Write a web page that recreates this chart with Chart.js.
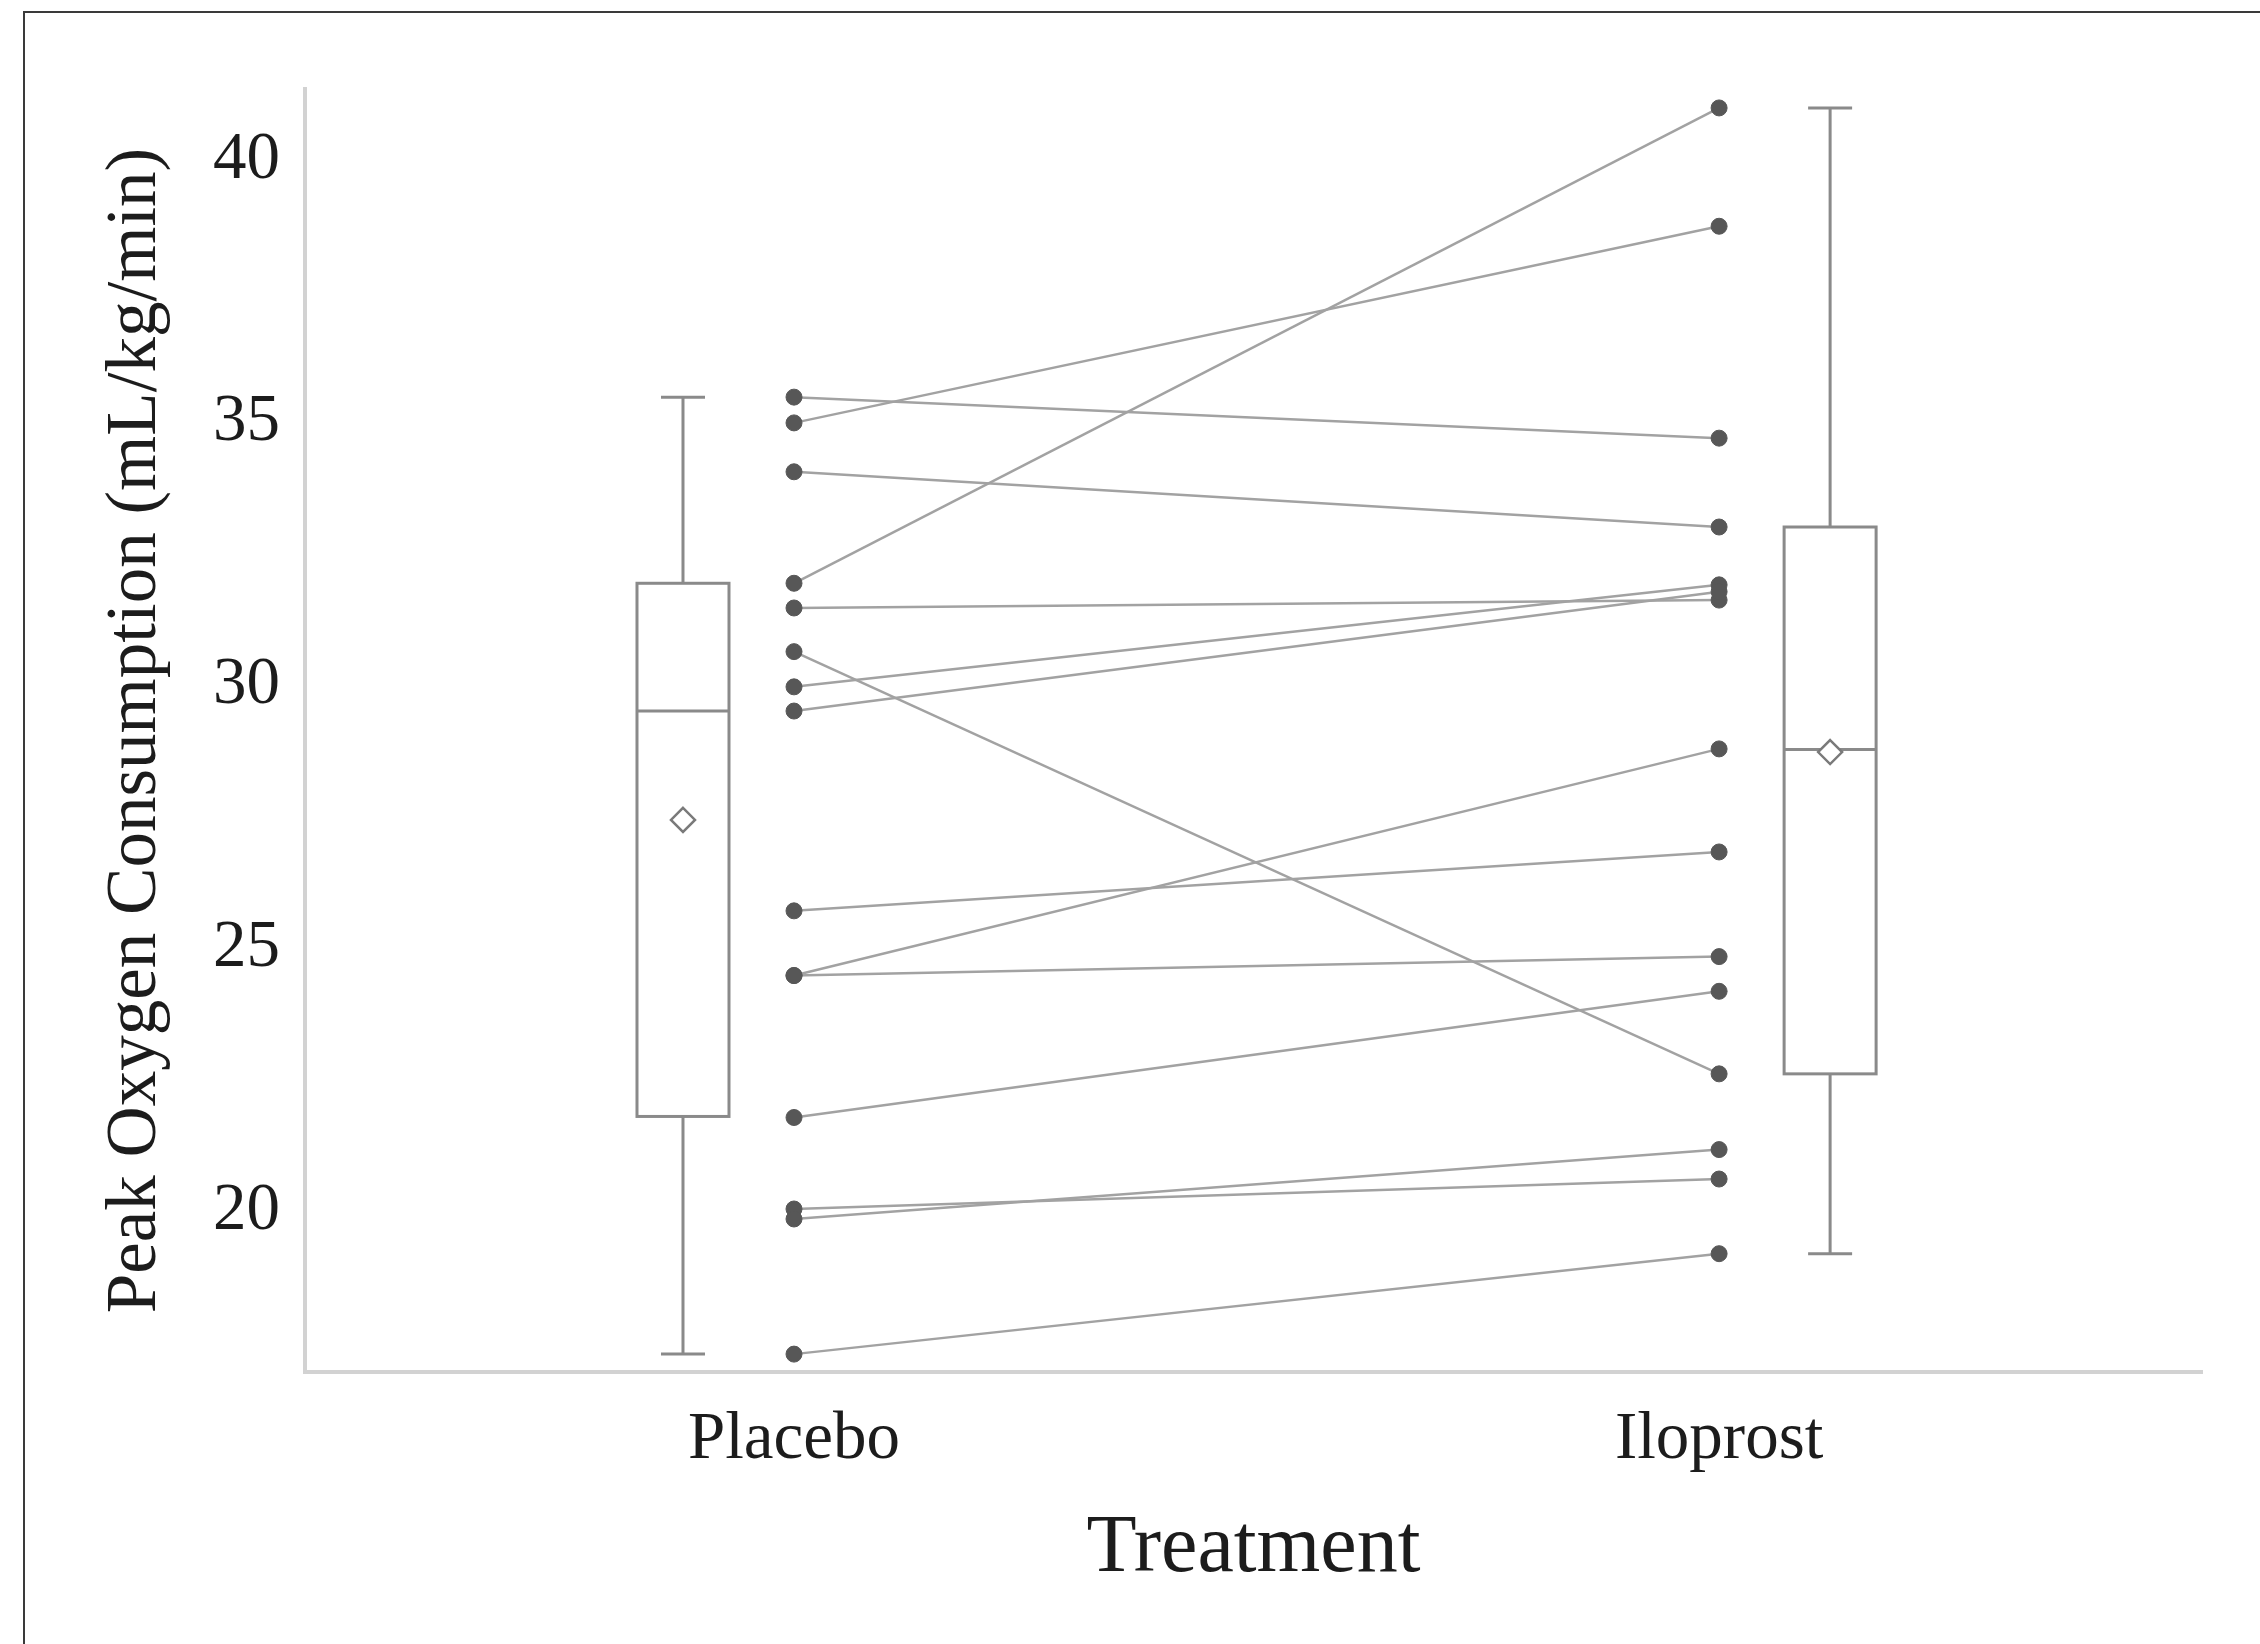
<!DOCTYPE html>
<html>
<head>
<meta charset="utf-8">
<title>Peak Oxygen Consumption</title>
<script src="https://cdn.jsdelivr.net/npm/chart.js@4.4.1/dist/chart.umd.min.js"></script>
<style>
    body {
        margin: 0;
        background: #ffffff;
    }
    #frame {
        position: absolute;
        left: 23px;
        top: 11px;
        width: 2260px;
        height: 1644px;
        border-left: 2px solid #3a3a3a;
        border-top: 2px solid #3a3a3a;
    }
    #wrap {
        position: absolute;
        left: 0;
        top: 0;
        width: 2260px;
        height: 1644px;
    }
</style>
</head>
<body>
<div id="frame"></div>
<div id="wrap">
    <canvas id="vo2Chart"></canvas>
</div>
<script>
/******************** DATA ********************/
// category names and where they sit on the x axis
let categories = ["Placebo", "Iloprost"];
let categoryX = [1, 2];

// paired measurements, same patient on each index
let placebo = [35.49, 35.0, 34.07, 31.95, 31.48, 30.65, 29.98, 29.52, 25.72, 24.49, 24.49, 21.79, 20.05, 19.86, 17.29];
let iloprost = [34.71, 38.74, 33.02, 40.99, 31.63, 22.62, 31.92, 31.79, 26.84, 28.80, 24.85, 24.19, 20.62, 21.18, 19.20];

// box plot stats (placebo, iloprost)
let boxMin = [17.29, 19.20];
let boxQ1 = [21.81, 22.62];
let boxMedian = [29.52, 28.79];
let boxQ3 = [31.95, 33.02];
let boxMax = [35.49, 40.99];
let boxMean = [27.45, 28.74];

let yTicks = [20, 25, 30, 35, 40];

/******************** DATASETS ********************/
let datasets = [];

// one grey line per patient
for (let i = 0; i < placebo.length; i++) {
    datasets.push({
        type: 'line',
        data: [
            { x: categoryX[0], y: placebo[i] },
            { x: categoryX[1], y: iloprost[i] }
        ],
        borderColor: '#a2a2a2',
        borderWidth: 2.5,
        pointRadius: 0,
        fill: false,
        order: 2
    });
}

// dots on top of the lines
let dots = [];
placebo.forEach(v => dots.push({ x: categoryX[0], y: v }));
iloprost.forEach(v => dots.push({ x: categoryX[1], y: v }));

datasets.push({
    type: 'scatter',
    data: dots,
    backgroundColor: '#575757',
    borderColor: '#575757',
    pointRadius: 8,
    order: 1
});

/******************** BOX PLOT PLUGIN ********************/
const boxOffset = [-0.12, 0.12];

const boxPlot = {
    id: 'boxPlot',
    beforeDatasetsDraw(chart) {
        let ctx = chart.ctx;
        let xs = chart.scales.x;
        let ys = chart.scales.y;
        ctx.save();
        ctx.strokeStyle = '#8a8a8a';
        ctx.lineWidth = 3;
        for (let i = 0; i < categories.length; i++) {
            let cx = xs.getPixelForValue(categoryX[i] + boxOffset[i]);
            let half = 46;
            let cap = 22;
            let yMin = ys.getPixelForValue(boxMin[i]);
            let yQ1 = ys.getPixelForValue(boxQ1[i]);
            let yMed = ys.getPixelForValue(boxMedian[i]);
            let yQ3 = ys.getPixelForValue(boxQ3[i]);
            let yMax = ys.getPixelForValue(boxMax[i]);
            let yMean = ys.getPixelForValue(boxMean[i]);

            // whiskers
            ctx.beginPath();
            ctx.moveTo(cx, yQ3);
            ctx.lineTo(cx, yMax);
            ctx.moveTo(cx - cap, yMax);
            ctx.lineTo(cx + cap, yMax);
            ctx.moveTo(cx, yQ1);
            ctx.lineTo(cx, yMin);
            ctx.moveTo(cx - cap, yMin);
            ctx.lineTo(cx + cap, yMin);
            ctx.stroke();

            // box + median
            ctx.strokeRect(cx - half, yQ3, half * 2, yQ1 - yQ3);
            ctx.beginPath();
            ctx.moveTo(cx - half, yMed);
            ctx.lineTo(cx + half, yMed);
            ctx.stroke();

            // mean diamond
            let d = 12;
            ctx.beginPath();
            ctx.moveTo(cx, yMean - d);
            ctx.lineTo(cx + d, yMean);
            ctx.lineTo(cx, yMean + d);
            ctx.lineTo(cx - d, yMean);
            ctx.closePath();
            ctx.fillStyle = '#ffffff';
            ctx.fill();
            ctx.lineWidth = 2.5;
            ctx.strokeStyle = '#7a7a7a';
            ctx.stroke();
            ctx.lineWidth = 3;
            ctx.strokeStyle = '#8a8a8a';
        }
        ctx.restore();
    }
};

/******************** CHART ********************/
let ctx = document.getElementById('vo2Chart');
let myChart = new Chart(ctx, {
    data: { datasets: datasets },
    plugins: [boxPlot],
    options: {
        responsive: true,
        maintainAspectRatio: false,
        animation: false,
        layout: {
            padding: { left: 0, top: 89, right: 58, bottom: 0 }
        },
        plugins: {
            legend: { display: false },
            tooltip: { enabled: false }
        },
        scales: {
            x: {
                type: 'linear',
                min: 0.4714,
                max: 2.522,
                afterBuildTicks: (axis) => {
                    axis.ticks = categoryX.map(v => ({ value: v }));
                },
                afterFit: (axis) => {
                    axis.height = 272;
                },
                grid: { display: false, drawTicks: false },
                border: { display: true, color: '#d2d2d2', width: 4 },
                ticks: {
                    padding: 28,
                    color: '#1c1c1c',
                    font: { family: 'Liberation Serif', size: 67 },
                    callback: (value) => categories[categoryX.indexOf(value)]
                },
                title: {
                    display: true,
                    text: 'Treatment',
                    color: '#1c1c1c',
                    font: { family: 'Liberation Serif', size: 82 },
                    padding: { top: 0, bottom: 45 }
                }
            },
            y: {
                type: 'linear',
                min: 16.95,
                max: 41.35,
                afterBuildTicks: (axis) => {
                    axis.ticks = yTicks.map(v => ({ value: v }));
                },
                afterFit: (axis) => {
                    axis.width = 305;
                },
                grid: { display: false, drawTicks: false },
                border: { display: true, color: '#d2d2d2', width: 4 },
                ticks: {
                    padding: 25,
                    color: '#1c1c1c',
                    font: { family: 'Liberation Serif', size: 67 }
                },
                title: {
                    display: true,
                    text: 'Peak Oxygen Consumption (mL/kg/min)',
                    color: '#1c1c1c',
                    font: { family: 'Liberation Serif', size: 71 },
                    padding: { top: 94, bottom: 0 }
                }
            }
        }
    }
});
</script>
</body>
</html>
